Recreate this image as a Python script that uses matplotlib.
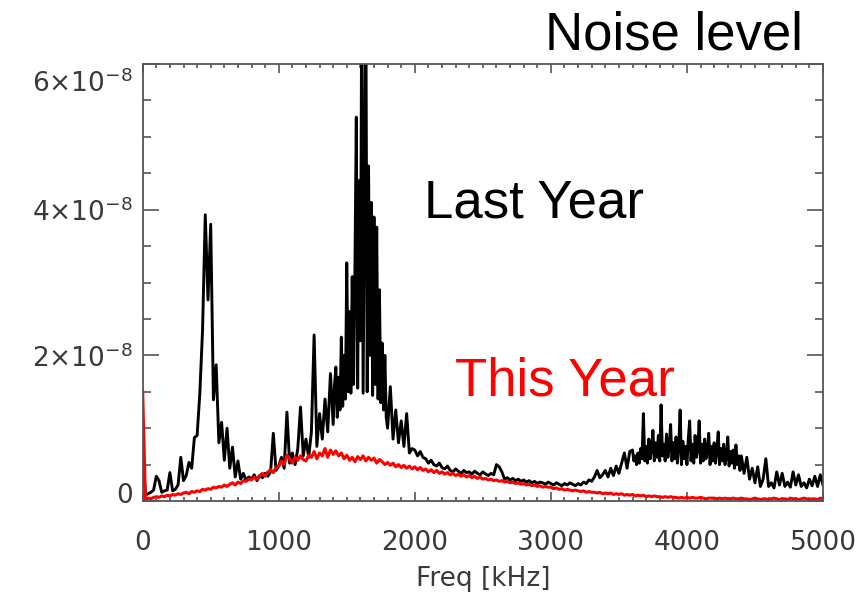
import numpy as np
import matplotlib
matplotlib.use("Agg")
import matplotlib.pyplot as plt
import matplotlib.transforms as mtransforms
from matplotlib.ticker import MultipleLocator

# frequency grids (kHz); last year is sampled finer where it is busiest
freq_last = np.concatenate([
    np.arange(0, 1400, 20),
    np.arange(1400, 1800, 10),
    np.arange(1800, 3600, 20),
    np.arange(3600, 4400, 10),
    np.arange(4400, 5001, 20),
])
freq_this = np.arange(0, 5001, 20)

# last year noise spectrum, in units of 1e-8
last_year = [
    # 0 - 1380 kHz
    0.75, 0.08, 0.10, 0.12, 0.15, 0.34, 0.28, 0.12, 0.14, 0.15,
    0.39, 0.14, 0.16, 0.22, 0.60, 0.28, 0.35, 0.53, 0.45, 0.87,
    0.90, 1.48, 2.35, 3.93, 2.76, 3.80, 1.39, 1.87, 0.80, 1.08,
    0.56, 1.00, 0.45, 0.74, 0.33, 0.55, 0.30, 0.38, 0.28, 0.33,
    0.30, 0.36, 0.28, 0.35, 0.32, 0.38, 0.34, 0.40, 0.93, 0.42,
    0.48, 0.60, 0.45, 1.22, 0.52, 0.66, 0.50, 0.72, 1.29, 0.62,
    0.85, 0.60, 0.95, 2.28, 0.75, 1.20, 0.85, 1.40, 0.95, 1.75,
    # 1400 - 1790 kHz
    1.05, 1.60, 1.84, 1.15, 1.70, 1.25, 2.25, 1.30, 2.00, 1.40,
    3.27, 1.50, 2.60, 1.48, 3.08, 1.60, 3.20, 5.27, 1.55, 4.40,
    2.20, 7.00, 1.48, 4.30, 7.00, 1.50, 4.60, 2.00, 4.10, 1.45,
    3.90, 1.60, 3.76, 1.40, 2.90, 1.35, 2.17, 1.25, 2.00, 1.15,
    # 1800 - 3580 kHz
    1.00, 1.57, 0.85, 1.25, 0.80, 1.10, 0.75, 1.20, 0.66, 0.72,
    0.70, 0.62, 0.68, 0.60, 0.58, 0.52, 0.56, 0.50, 0.48, 0.52,
    0.46, 0.44, 0.48, 0.42, 0.40, 0.44, 0.41, 0.38, 0.42, 0.39,
    0.40, 0.37, 0.41, 0.38, 0.36, 0.40, 0.37, 0.35, 0.38, 0.36,
    0.50, 0.47, 0.40, 0.30, 0.32, 0.29, 0.31, 0.28, 0.30, 0.27,
    0.29, 0.26, 0.28, 0.25, 0.27, 0.24, 0.26, 0.25, 0.23, 0.26,
    0.24, 0.22, 0.25, 0.23, 0.21, 0.24, 0.22, 0.25, 0.23, 0.21,
    0.24, 0.22, 0.26, 0.24, 0.29, 0.27, 0.33, 0.42, 0.32, 0.36,
    0.42, 0.33, 0.45, 0.35, 0.48, 0.38, 0.52, 0.66, 0.45, 0.68,
    # 3600 - 4390 kHz
    0.70, 0.55, 0.62, 0.50, 0.66, 0.52, 0.72, 0.58, 1.20, 0.55,
    0.75, 0.52, 0.85, 0.58, 0.72, 0.97, 0.55, 0.80, 0.60, 0.90,
    0.55, 1.32, 0.62, 0.78, 0.55, 0.92, 0.60, 0.75, 1.05, 0.55,
    0.80, 0.58, 0.88, 0.52, 0.75, 1.25, 0.50, 0.82, 0.58, 0.75,
    0.50, 0.85, 1.10, 0.55, 0.78, 0.52, 0.90, 0.60, 0.72, 1.10,
    0.52, 0.78, 0.55, 0.85, 0.58, 0.70, 0.93, 0.50, 0.75, 0.55,
    0.80, 0.52, 0.70, 0.95, 0.50, 0.72, 0.55, 0.78, 0.50, 0.60,
    0.88, 0.48, 0.68, 0.52, 0.70, 0.45, 0.77, 0.50, 0.62, 0.42,
    # 4400 - 5000 kHz
    0.62, 0.38, 0.60, 0.30, 0.45, 0.25, 0.47, 0.20, 0.30, 0.58,
    0.20, 0.25, 0.18, 0.40, 0.22, 0.38, 0.20, 0.26, 0.19, 0.40,
    0.22, 0.36, 0.20, 0.25, 0.18, 0.30, 0.21, 0.34, 0.20, 0.36,
    0.22,
]

# this year noise spectrum, in units of 1e-8
this_year = [
    1.50, 0.02, 0.04, 0.03, 0.05, 0.06, 0.05, 0.07, 0.06, 0.08,
    0.07, 0.09, 0.08, 0.10, 0.09, 0.11, 0.12, 0.10, 0.13, 0.12,
    0.14, 0.13, 0.16, 0.15, 0.17, 0.16, 0.19, 0.18, 0.20, 0.19,
    0.22, 0.20, 0.23, 0.25, 0.22, 0.26, 0.24, 0.28, 0.27, 0.30,
    0.29, 0.33, 0.30, 0.35, 0.38, 0.34, 0.40, 0.43, 0.39, 0.46,
    0.48, 0.55, 0.50, 0.63, 0.58, 0.52, 0.60, 0.56, 0.62, 0.57,
    0.55, 0.63, 0.60, 0.68, 0.58, 0.66, 0.62, 0.72, 0.60, 0.70,
    0.64, 0.69, 0.62, 0.66, 0.58, 0.63, 0.56, 0.60, 0.54, 0.61,
    0.57, 0.62, 0.55, 0.60, 0.56, 0.59, 0.52, 0.57, 0.54, 0.50,
    0.53, 0.49, 0.52, 0.47, 0.50, 0.46, 0.49, 0.45, 0.48, 0.44,
    0.47, 0.43, 0.46, 0.42, 0.44, 0.40, 0.43, 0.39, 0.42, 0.38,
    0.40, 0.37, 0.39, 0.36, 0.38, 0.35, 0.37, 0.34, 0.36, 0.33,
    0.35, 0.32, 0.34, 0.31, 0.33, 0.30, 0.31, 0.29, 0.30, 0.28,
    0.29, 0.27, 0.28, 0.26, 0.27, 0.25, 0.26, 0.24, 0.25, 0.23,
    0.24, 0.22, 0.23, 0.21, 0.22, 0.20, 0.21, 0.19, 0.20, 0.19,
    0.19, 0.17, 0.18, 0.16, 0.17, 0.15, 0.16, 0.15, 0.14, 0.15,
    0.14, 0.13, 0.14, 0.12, 0.13, 0.12, 0.12, 0.11, 0.12, 0.10,
    0.11, 0.10, 0.11, 0.09, 0.10, 0.09, 0.10, 0.08, 0.09, 0.08,
    0.09, 0.07, 0.08, 0.07, 0.08, 0.06, 0.07, 0.06, 0.07, 0.06,
    0.06, 0.05, 0.06, 0.05, 0.06, 0.05, 0.05, 0.04, 0.05, 0.04,
    0.05, 0.04, 0.05, 0.04, 0.04, 0.05, 0.04, 0.03, 0.04, 0.04,
    0.04, 0.03, 0.04, 0.03, 0.04, 0.03, 0.03, 0.04, 0.03, 0.03,
    0.04, 0.03, 0.03, 0.02, 0.03, 0.04, 0.03, 0.02, 0.03, 0.03,
    0.02, 0.03, 0.04, 0.03, 0.02, 0.03, 0.03, 0.02, 0.04, 0.03,
    0.03, 0.02, 0.03, 0.04, 0.03, 0.02, 0.03, 0.03, 0.02, 0.04,
    0.03,
]

x_ticks = [0, 1000, 2000, 3000, 4000, 5000]
y_ticks = [0, 2e-8, 4e-8, 6e-8]
y_tick_labels = ["0", r"$2{\times}10^{-8}$", r"$4{\times}10^{-8}$", r"$6{\times}10^{-8}$"]

plt.rcParams["mathtext.fontset"] = "dejavusans"

fig = plt.figure(figsize=(8.58, 6.09), dpi=100)
ax = fig.add_axes([0.1663, 0.1773, 0.7929, 0.7176])

scale = 1e-8
ax.plot(freq_last, np.array(last_year) * scale, color="black", lw=2.1)
ax.plot(freq_this, np.array(this_year) * scale, color="red", lw=2.2)

ax.set_xlim(0, 5000)
ax.set_ylim(0, 6e-8)
ax.set_xticks(x_ticks)
ax.set_xticklabels([str(t) for t in x_ticks])
ax.set_yticks(y_ticks)
ax.set_yticklabels(y_tick_labels)
ax.xaxis.set_minor_locator(MultipleLocator(100))
ax.yaxis.set_minor_locator(MultipleLocator(0.5e-8))

tick_col = "#555555"
for s in ax.spines.values():
    s.set_color(tick_col)
    s.set_linewidth(1.3)
ax.tick_params(axis="both", which="both", direction="in", top=True, right=True,
               color=tick_col, width=1.2, labelcolor="#3a3a3a", labelsize=19)
ax.tick_params(axis="x", which="major", length=6.5, pad=21)
ax.tick_params(axis="x", which="minor", length=3.2)
ax.tick_params(axis="y", which="major", length=11.5, pad=7)
ax.tick_params(axis="y", which="minor", length=5.8)

# the IDL labels sit a little off their ticks at both ends
for lab, dy in zip(ax.get_yticklabels(), [8, 0, 0, -17]):
    off = mtransforms.ScaledTranslation(0, dy / fig.dpi, fig.dpi_scale_trans)
    lab.set_transform(lab.get_transform() + off)

ax.set_xlabel("Freq [kHz]", fontsize=19, color="#3a3a3a")
ax.xaxis.set_label_coords(0.5, -0.149)

# annotations
ann = dict(family="Liberation Sans", fontsize=38, ha="center", va="baseline")
fig.text(674 / 858, 1 - 49 / 609, "Noise level", color="black", **ann)
fig.text(534 / 858, 1 - 218 / 609, "Last Year", color="black", **ann)
fig.text(565 / 858, 1 - 396 / 609, "This Year", color="red", **ann)

fig.savefig("out.png", dpi=100)
